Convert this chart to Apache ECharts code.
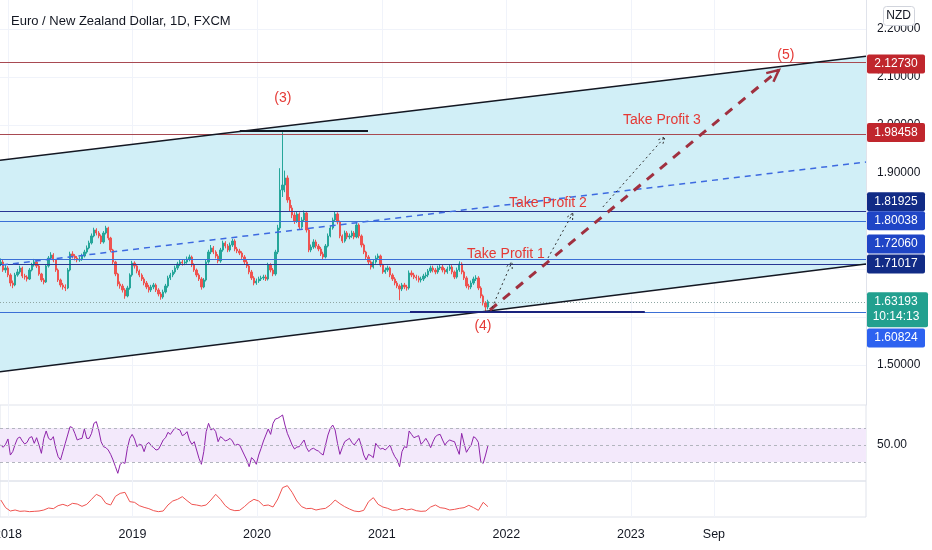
<!DOCTYPE html>
<html>
<head>
<meta charset="utf-8">
<title>EURNZD 1D</title>
<style>
  html, body { margin: 0; padding: 0; background: #fff; }
  #main { width: 932px; height: 550px; }
</style>
</head>
<body>
<div id="main"></div>
<script src="https://cdn.jsdelivr.net/npm/echarts@6/dist/echarts.min.js"></script>
<script>
// weekly candles, first week starts 2017-12-11 (open of first week below)
var firstOpen = 1.7100;
var closes = [
  1.7146,1.6979,1.7021,1.6875,1.6708,1.6667,1.6875,1.6938,1.7021,1.6854,
  1.6833,1.6792,1.6979,1.7083,1.7146,1.7063,1.6896,1.6771,1.6729,1.7063,
  1.7229,1.7292,1.7188,1.6979,1.6771,1.6667,1.6625,1.6604,1.6979,1.7313,
  1.7271,1.7229,1.7188,1.7208,1.7271,1.7354,1.7438,1.7542,1.7688,1.7813,
  1.7750,1.7688,1.7563,1.7750,1.7854,1.7646,1.7396,1.7146,1.6896,1.6688,
  1.6646,1.6563,1.6438,1.6604,1.6875,1.7125,1.7063,1.6958,1.6875,1.6792,
  1.6708,1.6625,1.6563,1.6625,1.6667,1.6563,1.6479,1.6417,1.6521,1.6646,
  1.6813,1.6875,1.6938,1.7021,1.7104,1.7146,1.7125,1.7146,1.7208,1.7250,
  1.7083,1.6979,1.6875,1.6792,1.6625,1.6771,1.7146,1.7354,1.7438,1.7354,
  1.7271,1.7167,1.7396,1.7542,1.7479,1.7396,1.7500,1.7583,1.7417,1.7375,
  1.7333,1.7250,1.7146,1.7063,1.6938,1.6813,1.6708,1.6750,1.6792,1.6813,
  1.6833,1.6792,1.7083,1.6979,1.6896,1.7354,1.7854,1.8646,1.8750,1.8896,
  1.8438,1.8271,1.8125,1.8000,1.8146,1.7875,1.8021,1.8167,1.7813,1.7396,
  1.7458,1.7563,1.7479,1.7417,1.7313,1.7250,1.7479,1.7688,1.7854,1.8021,
  1.8146,1.7979,1.7688,1.7583,1.7750,1.7667,1.7688,1.7750,1.7667,1.7917,
  1.7688,1.7500,1.7354,1.7250,1.7146,1.7042,1.7146,1.7229,1.7271,1.7083,
  1.6938,1.6979,1.7021,1.6875,1.6792,1.6708,1.6646,1.6583,1.6667,1.6625,
  1.6604,1.6917,1.6875,1.6833,1.6813,1.6771,1.6792,1.6854,1.6875,1.6958,
  1.7021,1.6979,1.6938,1.7021,1.7042,1.6979,1.6938,1.7000,1.7042,1.6938,
  1.6833,1.6979,1.7104,1.6938,1.6813,1.6646,1.6625,1.6708,1.6792,1.6813,
  1.6604,1.6438,1.6292,1.6208,1.6319
];
var highs = [
  1.722,1.719,1.708,1.706,1.691,1.676,1.692,1.700,1.707,1.705,
  1.690,1.687,1.702,1.713,1.721,1.718,1.709,1.692,1.681,1.710,
  1.727,1.735,1.733,1.721,1.701,1.680,1.671,1.668,1.702,1.736,
  1.737,1.731,1.727,1.726,1.732,1.740,1.749,1.759,1.774,1.786,
  1.785,1.779,1.772,1.779,1.790,1.788,1.767,1.742,1.717,1.692,
  1.674,1.669,1.660,1.665,1.691,1.717,1.716,1.710,1.699,1.691,
  1.683,1.675,1.667,1.667,1.671,1.670,1.660,1.652,1.657,1.669,
  1.686,1.692,1.698,1.707,1.715,1.720,1.719,1.720,1.726,1.730,
  1.728,1.712,1.701,1.691,1.683,1.681,1.719,1.740,1.750,1.748,
  1.739,1.731,1.744,1.759,1.758,1.752,1.755,1.763,1.762,1.746,
  1.742,1.737,1.729,1.719,1.710,1.698,1.685,1.680,1.684,1.686,
  1.688,1.688,1.713,1.712,1.702,1.740,1.792,1.910,1.985,1.905,
  1.895,1.850,1.833,1.818,1.820,1.818,1.808,1.822,1.820,1.784,
  1.751,1.762,1.761,1.752,1.746,1.736,1.752,1.774,1.790,1.807,
  1.820,1.818,1.801,1.772,1.780,1.779,1.774,1.780,1.779,1.797,
  1.795,1.772,1.753,1.738,1.729,1.718,1.720,1.728,1.732,1.730,
  1.711,1.703,1.707,1.705,1.691,1.683,1.675,1.668,1.671,1.671,
  1.667,1.697,1.697,1.692,1.688,1.686,1.684,1.690,1.693,1.700,
  1.707,1.707,1.702,1.707,1.710,1.709,1.702,1.705,1.709,1.708,
  1.697,1.703,1.716,1.714,1.697,1.685,1.669,1.676,1.684,1.687,
  1.685,1.664,1.647,1.633,1.636
];
var lows = [
  1.706,1.694,1.692,1.683,1.664,1.660,1.664,1.684,1.690,1.681,
  1.678,1.674,1.677,1.695,1.705,1.702,1.686,1.673,1.668,1.671,
  1.703,1.719,1.714,1.694,1.673,1.662,1.657,1.654,1.658,1.695,
  1.722,1.718,1.714,1.715,1.717,1.724,1.732,1.741,1.751,1.766,
  1.770,1.764,1.752,1.753,1.772,1.760,1.735,1.710,1.685,1.664,
  1.659,1.651,1.638,1.641,1.657,1.684,1.701,1.691,1.683,1.675,
  1.666,1.658,1.651,1.652,1.658,1.652,1.643,1.636,1.638,1.649,
  1.661,1.677,1.683,1.690,1.698,1.706,1.707,1.708,1.711,1.716,
  1.704,1.694,1.683,1.675,1.657,1.660,1.674,1.711,1.731,1.731,
  1.722,1.712,1.713,1.736,1.743,1.735,1.736,1.746,1.737,1.733,
  1.729,1.721,1.710,1.702,1.689,1.677,1.666,1.667,1.671,1.675,
  1.677,1.675,1.676,1.693,1.685,1.686,1.731,1.781,1.850,1.860,
  1.838,1.820,1.806,1.794,1.796,1.782,1.784,1.798,1.776,1.735,
  1.735,1.742,1.743,1.737,1.727,1.720,1.722,1.745,1.766,1.782,
  1.799,1.793,1.764,1.754,1.755,1.762,1.762,1.765,1.762,1.764,
  1.764,1.745,1.731,1.720,1.710,1.699,1.701,1.711,1.719,1.704,
  1.690,1.690,1.694,1.683,1.675,1.666,1.660,1.635,1.654,1.658,
  1.655,1.657,1.683,1.679,1.676,1.672,1.672,1.675,1.681,1.683,
  1.692,1.693,1.689,1.690,1.698,1.693,1.689,1.690,1.696,1.689,
  1.679,1.680,1.694,1.689,1.677,1.660,1.657,1.658,1.667,1.675,
  1.656,1.639,1.624,1.611,1.616
];
// RSI, one value per week
var rsi = [
  50.0,47.3,50.8,57.1,38.2,42.2,50.8,57.8,59.4,54.7,
  51.2,53.1,58.6,59.8,52.0,58.6,50.0,40.2,57.8,66.5,
  57.8,55.9,59.8,46.1,36.3,32.4,42.2,52.0,61.8,71.6,
  70.4,63.7,55.9,57.1,57.8,68.8,57.8,57.8,63.7,75.5,
  77.5,67.6,53.9,48.0,46.9,44.1,39.0,32.4,24.5,16.7,
  27.3,29.6,28.4,46.1,57.8,62.5,57.1,48.0,50.8,50.0,
  42.2,50.8,53.1,49.2,46.9,44.1,44.9,50.0,55.9,58.6,
  64.9,62.5,66.5,70.4,68.8,67.6,61.0,62.5,65.7,55.9,
  50.8,53.9,44.1,34.3,27.3,42.2,65.7,75.5,67.6,69.6,
  65.7,53.9,59.8,57.8,54.7,55.9,57.8,54.7,49.2,50.8,
  50.0,44.1,38.2,32.4,24.5,35.1,32.4,27.3,38.2,46.1,
  54.7,61.8,68.8,62.5,75.5,80.6,81.4,83.3,85.3,73.5,
  63.7,57.1,50.0,45.3,47.6,48.0,52.0,55.9,46.9,42.2,
  45.3,46.1,44.1,42.9,40.2,38.2,50.0,61.8,69.6,73.5,
  67.6,52.0,39.0,46.9,53.9,55.9,57.8,53.1,50.0,53.9,
  57.8,49.2,38.2,32.4,39.0,37.5,35.1,52.0,48.0,45.3,
  46.1,44.1,46.9,50.0,42.2,36.3,32.4,24.5,42.2,48.0,
  46.9,66.5,62.5,58.6,59.8,61.0,50.8,53.9,57.8,53.1,
  46.9,53.9,59.8,61.8,62.5,55.9,50.0,53.9,55.9,54.7,
  53.9,46.1,39.0,63.7,52.0,41.4,46.1,50.0,59.8,57.8,
  53.1,30.4,28.4,38.2,49.2
];
// lower indicator, one value every second week
var vol = [
  60,37,27,30,26,27,25,26,27,30,
  36,34,43,47,42,50,48,41,47,62,
  77,70,50,45,71,80,83,55,53,43,
  38,34,28,25,27,45,57,62,70,58,
  47,45,42,45,60,77,62,43,32,28,
  29,40,53,62,57,43,45,39,63,97,
  103,83,57,40,34,35,30,33,35,45,
  60,49,40,33,27,25,29,55,67,47,
  39,35,29,30,35,30,33,28,26,27,
  39,45,37,35,30,32,35,37,44,37,
  29,53,40
];

var axisStart = 2017.936, axisEnd = 2024.886;   // decimal years
var yearTicks = [2018, 2019, 2020, 2021, 2022, 2023, 2023.667];
var tickLabels = ['2018', '2019', '2020', '2021', '2022', '2023', 'Sep'];
var priceTicks = [1.5, 1.6, 1.7, 1.8, 1.9, 2.0, 2.1, 2.2];

// horizontal levels
var levels = [2.12730, 1.98458, 1.81925, 1.80038, 1.72060, 1.71017, 1.60824];
var levelColors = ['#a84a52', '#a84a52', '#283593', '#3b6fd6', '#3b6fd6', '#283593', '#3b6fd6'];
var lastPrice = 1.63193;

// right scale tags
var tagValues = [2.12730, 1.98458, 1.81925, 1.80038, 1.72060, 1.71017, 1.63193, 1.60824];
var tagTexts = ['2.12730', '1.98458', '1.81925', '1.80038', '1.72060', '1.71017', '1.63193\n10:14:13', '1.60824'];
var tagShift = [0, 0, -10, 0, -15, 0, 0, 25];
var tagColors = ['#c0262d', '#c0262d', '#112b86', '#1f45c6', '#1f45c6', '#112b86', '#22a08f', '#2d62f0'];

// channel (decimal year ends) and drawings
var upperLine = [1.9267, 2.1431];
var lowerLine = [1.4859, 1.7104];
var midLine = { x: [2017.952, 2024.886], y: [1.7083, 1.9229] };
var topBar = { x: [2019.862, 2020.889], y: 1.9875 };
var baseBar = { x: [2021.226, 2023.112], y: 1.6104 };
var arrows = [
  [2021.868, 1.6146, 2024.188, 2.1146],
  [2021.884, 1.6188, 2022.045, 1.7146],
  [2022.334, 1.7229, 2022.535, 1.8167],
  [2022.775, 1.8292, 2023.273, 1.9750]
];
var notes = ['(3)', '(4)', '(5)', 'Take Profit 1', 'Take Profit 2', 'Take Profit 3'];
var noteX = [2020.207, 2021.812, 2024.244, 2021.997, 2022.334, 2023.249];
var noteY = [2.0563, 1.5813, 2.1458, 1.7313, 1.8375, 2.0104];

function yr(v) {
  var y = Math.floor(v);
  var s = new Date(y, 0, 1).getTime(), e = new Date(y + 1, 0, 1).getTime();
  return s + (v - y) * (e - s);
}
function weekDate(i) { return new Date(2017, 11, 11 + 7 * i).getTime(); }

var xMin = yr(axisStart), xMax = yr(axisEnd);
var tickTimes = yearTicks.map(yr);

var candles = closes.map(function (c, i) {
  var o = i ? closes[i - 1] : firstOpen;
  return [weekDate(i), o, c, lows[i], highs[i]];
});
var rsiData = rsi.map(function (v, i) { return [weekDate(i), v]; });
var volData = vol.map(function (v, k) { return [weekDate(2 * k), v]; });

var FONT = '"Liberation Sans", Arial, sans-serif';

function tickName(v) {
  var best = 0;
  for (var k = 1; k < tickTimes.length; k++) {
    if (Math.abs(tickTimes[k] - v) < Math.abs(tickTimes[best] - v)) best = k;
  }
  return tickLabels[best];
}

// x is a plain value axis in milliseconds, ticks placed on the year starts
function xAxisFor(gi) {
  return {
    type: 'value', gridIndex: gi, min: xMin, max: xMax, scale: true,
    axisLine: { show: false },
    axisTick: { show: false, customValues: tickTimes },
    splitLine: { show: true, lineStyle: { color: '#f0f3fa', width: 1 } },
    axisLabel: {
      show: gi === 2, customValues: tickTimes, formatter: tickName,
      color: '#131722', fontSize: 12.5, fontFamily: FONT, margin: 11
    }
  };
}

function seg(x, y, color, width, type) {
  return {
    type: 'line', xAxisIndex: 0, yAxisIndex: 0, showSymbol: false, silent: true, z: 4,
    data: [[yr(x[0]), y[0]], [yr(x[1]), y[1]]],
    lineStyle: { color: color, width: width, type: type || 'solid' }
  };
}

var chart = echarts.init(document.getElementById('main'));

var option = {
  animation: false,
  backgroundColor: '#ffffff',
  title: {
    text: 'Euro / New Zealand Dollar, 1D, FXCM', left: 6, top: 10,
    textStyle: { fontSize: 13, fontWeight: 'normal', color: '#131722', fontFamily: FONT }
  },
  grid: [
    { left: 0, right: 66, top: -19, height: 424, outerBoundsMode: 'none' },
    { left: 0, right: 66, top: 405, height: 76, show: true, borderColor: '#e0e3eb', borderWidth: 1, outerBoundsMode: 'none' },
    { left: 0, right: 66, top: 481, height: 36, show: true, borderColor: '#e0e3eb', borderWidth: 1, outerBoundsMode: 'none' }
  ],
  xAxis: [xAxisFor(0), xAxisFor(1), xAxisFor(2)],
  yAxis: [
    {
      type: 'value', gridIndex: 0, position: 'right', min: 1.41667, max: 2.3,
      axisLine: { show: true, lineStyle: { color: '#e0e3eb' } },
      axisTick: { show: false, customValues: priceTicks },
      splitLine: { show: true, lineStyle: { color: '#f0f3fa' } },
      axisLabel: {
        customValues: priceTicks, margin: 11, fontSize: 12, color: '#131722', fontFamily: FONT,
        formatter: function (v) { return v.toFixed(5); }
      }
    },
    {
      type: 'value', gridIndex: 1, position: 'right', min: 7.65, max: 97.06,
      axisLine: { show: false }, axisTick: { show: false }, splitLine: { show: false },
      axisLabel: {
        customValues: [50], margin: 11, fontSize: 12, color: '#131722', fontFamily: FONT,
        formatter: function (v) { return v.toFixed(2); }
      }
    },
    {
      type: 'value', gridIndex: 2, position: 'right', min: 9, max: 117,
      axisLine: { show: false }, axisTick: { show: false }, splitLine: { show: false },
      axisLabel: { show: false }
    }
  ],
  graphic: [
    {
      type: 'rect', right: 17, top: 6, z: 100,
      shape: { width: 31, height: 19, r: 3 },
      style: { fill: '#ffffff', stroke: '#d1d4dc', lineWidth: 1 }
    },
    {
      type: 'text', right: 21, top: 10, z: 101,
      style: { text: 'NZD', fill: '#131722', font: '12px ' + FONT }
    }
  ],
  series: [
    {
      // channel fill
      type: 'custom', xAxisIndex: 0, yAxisIndex: 0, silent: true, z: 1,
      data: [[xMin, upperLine[0]]],
      renderItem: function (params, api) {
        var a = api.coord([xMin, upperLine[0]]), b = api.coord([xMax, upperLine[1]]);
        var c = api.coord([xMax, lowerLine[1]]), d = api.coord([xMin, lowerLine[0]]);
        return { type: 'polygon', shape: { points: [a, b, c, d] }, style: { fill: '#d1eff7' } };
      }
    },
    {
      type: 'candlestick', xAxisIndex: 0, yAxisIndex: 0, z: 3, barWidth: 1.8,
      data: candles,
      itemStyle: {
        color: '#26a69a', color0: '#ef5350',
        borderColor: '#26a69a', borderColor0: '#ef5350', borderWidth: 1
      },
      markLine: {
        silent: true, symbol: ['none', 'none'], label: { show: false }, z: 4,
        data: levels.map(function (v, i) {
          return { yAxis: v, lineStyle: { color: levelColors[i], width: 1.2, type: 'solid' } };
        }).concat([{ yAxis: lastPrice, lineStyle: { color: '#8fa6a3', width: 1, type: [1, 2] } }])
      }
    },
    seg([axisStart, axisEnd], upperLine, '#131722', 1.5),
    seg([axisStart, axisEnd], lowerLine, '#131722', 1.5),
    seg(midLine.x, midLine.y, '#3d6ae0', 1.5, [6, 5]),
    seg(topBar.x, [topBar.y, topBar.y], '#131722', 2),
    seg(baseBar.x, [baseBar.y, baseBar.y], '#1a237e', 2),
    {
      // projection arrows
      type: 'custom', xAxisIndex: 0, yAxisIndex: 0, silent: true, z: 5,
      encode: { x: [0, 2], y: [1, 3] },
      data: arrows.map(function (a) { return [yr(a[0]), a[1], yr(a[2]), a[3]]; }),
      renderItem: function (params, api) {
        var big = params.dataIndex === 0;
        var p = api.coord([api.value(0), api.value(1)]);
        var q = api.coord([api.value(2), api.value(3)]);
        var ang = Math.atan2(q[1] - p[1], q[0] - p[0]);
        var L = big ? 13 : 7, spread = 0.45;
        var h1 = [q[0] - L * Math.cos(ang - spread), q[1] - L * Math.sin(ang - spread)];
        var h2 = [q[0] - L * Math.cos(ang + spread), q[1] - L * Math.sin(ang + spread)];
        var st = big
          ? { stroke: '#a0303f', lineWidth: 3, lineDash: [9, 8], fill: null }
          : { stroke: '#333333', lineWidth: 1, lineDash: [2, 3], fill: null };
        return {
          type: 'group', children: [
            { type: 'line', shape: { x1: p[0], y1: p[1], x2: q[0], y2: q[1] }, style: st },
            { type: 'polyline', shape: { points: [h1, q, h2] },
              style: { stroke: st.stroke, lineWidth: big ? 2.5 : 1, fill: null, lineDash: big ? null : [2, 2] } }
          ]
        };
      }
    },
    {
      // text notes
      type: 'custom', xAxisIndex: 0, yAxisIndex: 0, silent: true, z: 6,
      data: notes.map(function (t, i) { return [yr(noteX[i]), noteY[i]]; }),
      renderItem: function (params, api) {
        var p = api.coord([api.value(0), api.value(1)]);
        return {
          type: 'text', x: p[0], y: p[1],
          style: { text: notes[params.dataIndex], fill: '#e53935', font: '14px ' + FONT, align: 'center', verticalAlign: 'middle' }
        };
      }
    },
    {
      // price tags on the right scale
      type: 'custom', xAxisIndex: 0, yAxisIndex: 0, silent: true, z: 20, clip: false,
      data: tagValues.map(function (v) { return [xMax, v]; }),
      renderItem: function (params, api) {
        var i = params.dataIndex;
        var p = api.coord([api.value(0), api.value(1)]);
        var two = tagTexts[i].indexOf('\n') >= 0;
        var h = two ? 35 : 19;
        var top = p[1] + tagShift[i] - 9.5;
        return {
          type: 'group', children: [
            { type: 'rect', shape: { x: p[0] + 1, y: top, width: two ? 61 : 58, height: h, r: 2 }, style: { fill: tagColors[i] } },
            { type: 'text', x: p[0] + 30, y: top + h / 2,
              style: { text: tagTexts[i], fill: '#ffffff', font: '12px ' + FONT, align: 'center', verticalAlign: 'middle', lineHeight: 15 } }
          ]
        };
      }
    },
    {
      type: 'line', xAxisIndex: 1, yAxisIndex: 1, showSymbol: false, silent: true, z: 3,
      data: rsiData,
      lineStyle: { color: '#8e24aa', width: 1 },
      markArea: {
        silent: true, itemStyle: { color: '#f3e9fb' },
        data: [[{ yAxis: 30 }, { yAxis: 70 }]]
      },
      markLine: {
        silent: true, symbol: ['none', 'none'], label: { show: false },
        lineStyle: { color: '#b2b5be', width: 1, type: [3, 3] },
        data: [{ yAxis: 30 }, { yAxis: 50 }, { yAxis: 70 }]
      }
    },
    {
      type: 'line', xAxisIndex: 2, yAxisIndex: 2, showSymbol: false, silent: true,
      data: volData,
      lineStyle: { color: '#ef5350', width: 1 }
    }
  ]
};

chart.setOption(option);
</script>
</body>
</html>
